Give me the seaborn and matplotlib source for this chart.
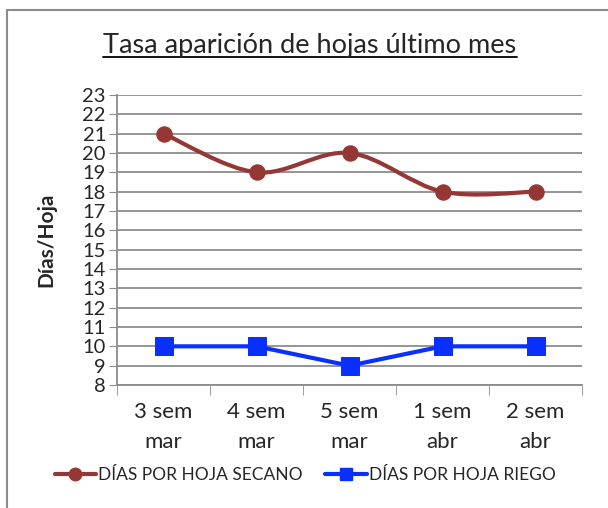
import numpy as np
import pandas as pd
import matplotlib
matplotlib.use("Agg")
import matplotlib.pyplot as plt
from matplotlib.path import Path
from matplotlib.patches import PathPatch
from matplotlib.lines import Line2D
import seaborn as sns

categories = ["3 sem\nmar", "4 sem\nmar", "5 sem\nmar", "1 sem\nabr", "2 sem\nabr"]
secano = [21, 19, 20, 18, 18]
riego = [10, 10, 9, 10, 10]

col_secano = "#953735"
col_riego = "#0a30ff"
grid_col = "#8c8c8c"

sns.set_style("white")
plt.rcParams['font.family'] = ['Lato', 'DejaVu Sans']

fig = plt.figure(figsize=(6.08, 5.08), dpi=100)
ax = fig.add_axes([117 / 608, 123 / 508, 465 / 608, 290 / 508])

df = pd.DataFrame({"x": np.arange(len(categories)), "secano": secano, "riego": riego})

# smoothed line (Excel style bezier through the points)
pts = np.column_stack([df["x"], df["secano"]]).astype(float)
verts = [tuple(pts[0])]
codes = [Path.MOVETO]
n = len(pts)
for i in range(n - 1):
    p0 = pts[max(i - 1, 0)]
    p1 = pts[i]
    p2 = pts[i + 1]
    p3 = pts[min(i + 2, n - 1)]
    c1 = p1 + (p2 - p0) / 6
    c2 = p2 - (p3 - p1) / 6
    verts += [tuple(c1), tuple(c2), tuple(p2)]
    codes += [Path.CURVE4] * 3
ax.add_patch(PathPatch(Path(verts, codes), facecolor="none", edgecolor=col_secano, lw=3, zorder=3))
sns.scatterplot(data=df, x="x", y="secano", color=col_secano, s=120, marker="o",
                edgecolor=col_secano, ax=ax, zorder=4, legend=False)

sns.lineplot(data=df, x="x", y="riego", color=col_riego, lw=3, marker="s", markersize=13,
             markeredgecolor=col_riego, ax=ax, zorder=4, legend=False)

ax.set_xlim(-0.5, len(categories) - 0.5)
ax.set_ylim(8, 23)
ax.set_yticks(range(8, 24))
ax.tick_params(axis="y", labelsize=14.5, length=6, color=grid_col, direction="out", pad=2, left=True)
ax.set_xticks(range(len(categories)))
ax.set_xticklabels(categories, fontsize=16, linespacing=1.65)
ax.tick_params(axis="x", length=0, pad=12)
ax.set_xticks(np.arange(-0.5, len(categories), 1), minor=True)
ax.tick_params(axis="x", which="minor", length=7, color=grid_col, direction="out", bottom=True)
ax.grid(axis="y", color=grid_col, lw=1.3)
ax.set_axisbelow(True)
for s in ["top", "right"]:
    ax.spines[s].set_visible(False)
for s in ["left", "bottom"]:
    ax.spines[s].set_color(grid_col)
    ax.spines[s].set_linewidth(1.3)
ax.set_xlabel("")
ax.set_ylabel("Días/Hoja", fontsize=15, fontweight="bold", labelpad=19)

title = fig.text(310 / 608, 1 - 45 / 508, "Tasa aparición de hojas último mes", ha="center",
                 va="center", fontsize=19.5)
fig.canvas.draw()
bb = title.get_window_extent().transformed(fig.transFigure.inverted())
fig.add_artist(Line2D([bb.x0, bb.x1], [1 - 57 / 508, 1 - 57 / 508], color="black", lw=1.3))

handles = [
    Line2D([0], [0], color=col_secano, lw=3, marker="o", markersize=9),
    Line2D([0], [0], color=col_riego, lw=3, marker="s", markersize=9),
]
fig.legend(handles, ["DÍAS POR HOJA SECANO", "DÍAS POR HOJA RIEGO"], loc="center",
           bbox_to_anchor=(305 / 608, 1 - 475 / 508), ncol=2, frameon=False, fontsize=12.5,
           handlelength=2.4, handletextpad=0.1, columnspacing=1.3)

# chart border
fig.add_artist(Line2D([7 / 608, 7 / 608], [0, 1 - 10 / 508], color="#8c8c8c", lw=1.5))
fig.add_artist(Line2D([7 / 608, 1], [1 - 10 / 508, 1 - 10 / 508], color="#8c8c8c", lw=1.5))

fig.savefig("out.png", dpi=100)
